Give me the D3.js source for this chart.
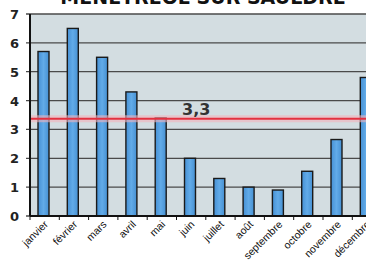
<!DOCTYPE html>
<html lang="fr">
<head>
<meta charset="UTF-8">
<title>Ménétréol-sur-Sauldre</title>
<script src="https://d3js.org/d3.v7.min.js"></script>
<style>
  body { margin: 0; background: #fff; }
  svg { display: block; font-family: "DejaVu Sans", Verdana, sans-serif; }
</style>
</head>
<body>
<div id="chart"></div>
<script>
// données
var mois = ["janvier", "février", "mars", "avril", "mai", "juin", "juillet", "août", "septembre", "octobre", "novembre", "décembre"];
var valeurs = [5.7, 6.5, 5.5, 4.3, 3.4, 2.0, 1.3, 1.0, 0.9, 1.55, 2.65, 4.8];
var moyenne = 3.37;
var moyenneLabel = "3,3";
var yTicks = [0, 1, 2, 3, 4, 5, 6, 7];
var titre = "MENETREOL SUR SAULDRE";

var W = 366, H = 261;
var plotLeft = 30, plotTop = 14, plotBottom = 216;

var svg = d3.select("#chart").append("svg").attr("width", W).attr("height", H);

var x = d3.scaleBand().domain(mois).range([plotLeft, plotLeft + 12 * 29.3]);
var y = d3.scaleLinear().domain([0, 7]).range([plotBottom, plotTop]);

// fond
svg.append("rect").attr("x", plotLeft).attr("y", plotTop).attr("width", W - plotLeft).attr("height", plotBottom - plotTop)
  .attr("fill", "#d3dde1");

// titre (coupé en haut)
svg.append("text").attr("x", 203).attr("y", 4).attr("text-anchor", "middle")
  .attr("font-size", 19).attr("font-weight", "bold").attr("fill", "#111").text(titre);

// grille
svg.selectAll(".grid").data(yTicks).join("line")
  .attr("x1", plotLeft - 4).attr("x2", W)
  .attr("y1", d => y(d)).attr("y2", d => y(d))
  .attr("stroke", "#4a4a4a").attr("stroke-width", 1.3);

svg.selectAll(".ylab").data(yTicks).join("text")
  .attr("x", 19).attr("y", d => y(d) + 5).attr("text-anchor", "end")
  .attr("font-size", 13).attr("font-weight", "bold").attr("fill", "#222")
  .text(d => d);

// gradient barres
var grad = svg.append("defs").append("linearGradient").attr("id", "g").attr("x1", 0).attr("x2", 1);
grad.append("stop").attr("offset", "0%").attr("stop-color", "#4690d4");
grad.append("stop").attr("offset", "50%").attr("stop-color", "#62abe8");
grad.append("stop").attr("offset", "100%").attr("stop-color", "#4690d2");

svg.selectAll(".bar").data(valeurs).join("rect")
  .attr("x", (d, i) => x(mois[i]) + 8)
  .attr("width", 11)
  .attr("y", d => y(d))
  .attr("height", d => y(0) - y(d))
  .attr("fill", "url(#g)").attr("stroke", "#1a1a1a").attr("stroke-width", 1.4);

// ligne moyenne
svg.append("line").attr("x1", plotLeft).attr("x2", W).attr("y1", y(moyenne)).attr("y2", y(moyenne))
  .attr("stroke", "#f3b4bd").attr("stroke-width", 7).attr("opacity", 0.6);
svg.append("line").attr("x1", plotLeft).attr("x2", W).attr("y1", y(moyenne)).attr("y2", y(moyenne))
  .attr("stroke", "#e3303f").attr("stroke-width", 2);
svg.append("text").attr("x", 182).attr("y", y(moyenne) - 4)
  .attr("font-size", 16).attr("font-weight", "bold").attr("fill", "#333").text(moyenneLabel);

// axes
svg.append("line").attr("x1", plotLeft).attr("x2", plotLeft).attr("y1", plotTop).attr("y2", plotBottom)
  .attr("stroke", "#111").attr("stroke-width", 2);
svg.append("line").attr("x1", plotLeft).attr("x2", W).attr("y1", plotBottom).attr("y2", plotBottom)
  .attr("stroke", "#111").attr("stroke-width", 2);
svg.selectAll(".xt").data(mois).join("line")
  .attr("x1", d => x(d)).attr("x2", d => x(d)).attr("y1", plotBottom).attr("y2", plotBottom + 4)
  .attr("stroke", "#111");

svg.selectAll(".xlab").data(mois).join("text")
  .attr("transform", d => "translate(" + (x(d) + x.bandwidth() / 2 + 4) + "," + (plotBottom + 9) + ") rotate(-45)")
  .attr("text-anchor", "end").attr("font-size", 10.5).attr("fill", "#111")
  .attr("font-family", "'Liberation Sans', Arial, sans-serif")
  .text(d => d);
</script>
</body>
</html>
